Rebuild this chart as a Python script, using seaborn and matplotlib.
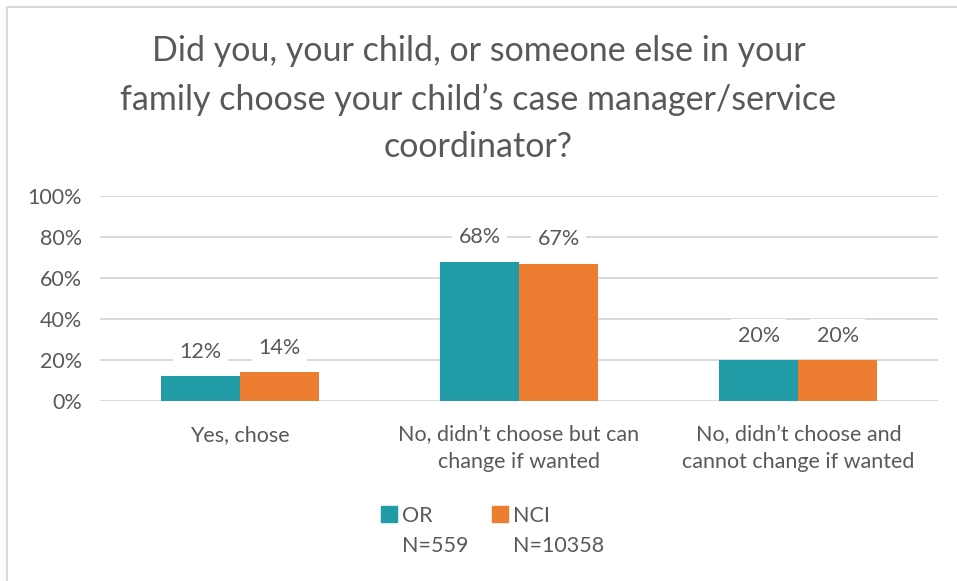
import matplotlib
matplotlib.use("Agg")
import matplotlib.pyplot as plt
import seaborn as sns
import pandas as pd
from matplotlib.lines import Line2D

categories = ["Yes, chose",
              "No, didn\u2019t choose but can\nchange if wanted",
              "No, didn\u2019t choose and\ncannot change if wanted"]
or_values = [12, 68, 20]
nci_values = [14, 67, 20]
series_names = ["OR", "NCI"]
series_n = ["N=559", "N=10358"]
y_ticks = [0, 20, 40, 60, 80, 100]
title = ("Did you, your child, or someone else in your\n"
         "family choose your child\u2019s case manager/service\n"
         "coordinator?")

colors = ["#219CA6", "#ED7D31"]
text_gray = "#595959"

df = pd.DataFrame({
    "category": categories * 2,
    "series": [series_names[0]] * 3 + [series_names[1]] * 3,
    "value": or_values + nci_values,
})

sns.set_theme(style="white")
plt.rcParams["font.family"] = ["Lato", "DejaVu Sans"]

fig = plt.figure(figsize=(9.57, 5.81), dpi=100)
ax = fig.add_axes([100 / 957, 1 - 401 / 581, 838 / 957, 205 / 581])

sns.barplot(data=df, x="category", y="value", hue="series",
            palette=colors, width=0.566, saturation=1, ax=ax,
            legend=False, linewidth=0)

ax.set_ylim(0, 100)
ax.set_yticks(y_ticks)
ax.set_yticklabels([f"{t}%" for t in y_ticks], color=text_gray, fontsize=15.5)
ax.set_xlim(-0.5, 2.5)
ax.set_xlabel("")
ax.set_ylabel("")
ax.tick_params(axis="x", colors=text_gray, labelsize=15.5, length=0, pad=17)
ax.tick_params(axis="y", length=0, pad=13)
for lbl in ax.get_xticklabels():
    lbl.set_linespacing(1.45)
    lbl.set_color(text_gray)
ax.grid(axis="y", color="#D9D9D9", linewidth=1.4)
ax.set_axisbelow(True)
for s in ax.spines.values():
    s.set_visible(False)

# value labels with white boxes over the gridlines
for cont in ax.containers:
    for bar in cont:
        h = bar.get_height()
        ax.annotate(f"{h:.0f}%", (bar.get_x() + bar.get_width() / 2, h),
                    xytext=(0, 17.5), textcoords="offset points",
                    ha="center", va="center", fontsize=15.5, color=text_gray,
                    bbox=dict(boxstyle="square,pad=0.3", fc="white", ec="none"))

fig.suptitle(title, x=0.5, y=0.94, fontsize=24.5, color=text_gray,
             linespacing=1.6, va="top")

# legend with sample sizes under each entry
handles = [Line2D([0], [0], marker="s", linestyle="none", markersize=11,
                  markerfacecolor=c, markeredgecolor=c) for c in colors]
leg = fig.legend(handles, series_names, loc="center", ncol=2,
                 bbox_to_anchor=(0.485, 1 - 516 / 581), frameon=False,
                 fontsize=15.5, handletextpad=0.1, columnspacing=2.6,
                 handlelength=1.0, labelcolor=text_gray)
fig.canvas.draw()
renderer = fig.canvas.get_renderer()
inv = fig.transFigure.inverted()
for txt, n in zip(leg.get_texts(), series_n):
    bb = txt.get_window_extent(renderer)
    x0, y0 = inv.transform((bb.x0, bb.y0))
    fig.text(x0, y0 - 30 / 581, n, fontsize=15.5, color=text_gray,
             ha="left", va="bottom")

# thin frame along the top and left edges
fig.add_artist(Line2D([6.5 / 957, 6.5 / 957], [0, 1 - 6.5 / 581],
                      transform=fig.transFigure, color="#D9D9D9", lw=1.5))
fig.add_artist(Line2D([6.5 / 957, 1], [1 - 6.5 / 581, 1 - 6.5 / 581],
                      transform=fig.transFigure, color="#D9D9D9", lw=1.5))

fig.savefig("out.png", dpi=100, facecolor="white")
